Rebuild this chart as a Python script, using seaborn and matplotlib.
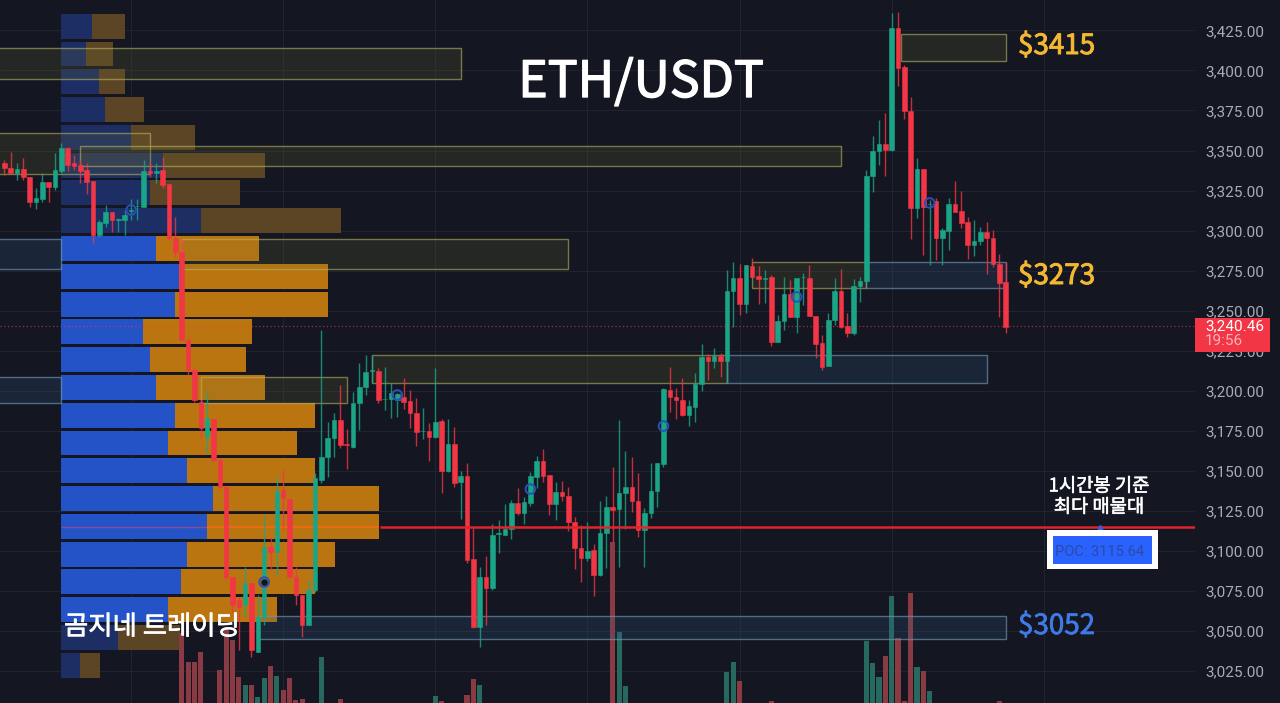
import numpy as np
import pandas as pd
import matplotlib
matplotlib.use("Agg")
import matplotlib.pyplot as plt
import matplotlib.patheffects as pe
from matplotlib.patches import Rectangle
import seaborn as sns

# candles, one hour each
opens = [3342.0, 3339.3, 3335.8, 3338.4, 3333.7, 3317.6, 3319.7, 3330.3, 3327.4, 3337.4,
         3351.8, 3342.0, 3341.0, 3337.8, 3331.0, 3297.2, 3304.9, 3311.4, 3306.6, 3306.6,
         3312.2, 3315.2, 3314.9, 3337.2, 3335.8, 3337.8, 3328.8, 3295.1, 3286.8, 3231.6,
         3212.8, 3193.0, 3170.7, 3182.2, 3156.5, 3139.9, 3083.6, 3069.0, 3065.9, 3079.5,
         3036.8, 3058.6, 3102.4, 3099.3, 3137.8, 3132.2, 3083.6, 3072.2, 3053.4, 3075.3,
         3144.0, 3158.2, 3170.1, 3181.5, 3166.3, 3164.9, 3192.0, 3202.0, 3212.0, 3212.4,
         3194.5, 3194.7, 3194.0, 3196.2, 3193.5, 3185.8, 3174.6, 3174.7, 3171.2, 3181.2,
         3149.7, 3166.6, 3143.0, 3146.6, 3094.5, 3052.4, 3083.3, 3076.4, 3110.2, 3109.7,
         3113.3, 3129.5, 3123.3, 3129.5, 3146.2, 3156.2, 3147.2, 3129.1, 3136.8, 3134.3,
         3117.6, 3101.4, 3095.6, 3100.4, 3084.7, 3110.8, 3127.0, 3125.8, 3135.8, 3139.5,
         3131.2, 3112.8, 3123.3, 3137.4, 3154.1, 3200.4, 3195.8, 3194.1, 3184.7, 3189.9,
         3204.1, 3221.2, 3218.5, 3221.8, 3218.6, 3262.2, 3270.1, 3254.1, 3278.0, 3271.6,
         3269.8, 3271.1, 3230.1, 3243.4, 3260.3, 3246.1, 3270.8, 3270.1, 3246.6, 3229.5,
         3215.5, 3244.1, 3262.2, 3240.5, 3235.7, 3265.3, 3268.4, 3334.0, 3349.9, 3353.8,
         3350.3, 3426.8, 3402.4, 3374.9, 3313.8, 3338.2, 3316.3, 3318.2, 3295.1, 3299.9,
         3316.3, 3312.4, 3305.5, 3290.9, 3293.6, 3298.8, 3295.1, 3279.1, 3267.6]
highs = [3344.1, 3349.3, 3342.0, 3345.1, 3333.7, 3326.4, 3336.1, 3330.3, 3348.6, 3354.5,
         3352.4, 3347.2, 3344.1, 3342.0, 3331.0, 3306.6, 3316.0, 3311.4, 3307.6, 3312.8,
         3319.5, 3319.5, 3344.1, 3342.0, 3342.0, 3346.1, 3328.8, 3308.6, 3294.1, 3233.0,
         3214.9, 3194.0, 3199.3, 3182.2, 3157.6, 3139.9, 3083.6, 3071.1, 3089.9, 3079.5,
         3072.2, 3122.2, 3108.6, 3146.1, 3150.3, 3132.2, 3089.9, 3072.2, 3081.5, 3148.2,
         3237.8, 3180.5, 3185.7, 3203.4, 3175.9, 3199.3, 3217.0, 3222.2, 3222.2, 3213.8,
         3214.9, 3204.5, 3198.2, 3207.6, 3200.4, 3195.1, 3188.9, 3179.5, 3213.9, 3182.2,
         3182.2, 3177.0, 3149.7, 3154.5, 3113.9, 3089.9, 3096.6, 3116.6, 3119.1, 3128.9,
         3131.6, 3138.9, 3133.7, 3149.3, 3159.1, 3163.3, 3147.2, 3143.1, 3143.5, 3139.5,
         3121.2, 3116.0, 3118.0, 3104.1, 3131.2, 3134.1, 3152.4, 3181.6, 3162.4, 3158.7,
         3148.3, 3126.4, 3154.5, 3154.5, 3201.4, 3214.9, 3201.4, 3207.6, 3194.1, 3210.8,
         3228.9, 3222.9, 3226.4, 3223.3, 3275.3, 3280.5, 3278.9, 3278.4, 3282.6, 3277.8,
         3275.3, 3272.2, 3247.2, 3271.1, 3269.1, 3270.1, 3273.2, 3278.4, 3246.6, 3234.7,
         3248.2, 3270.1, 3275.7, 3248.2, 3269.5, 3271.1, 3337.8, 3359.1, 3369.1, 3373.2,
         3435.7, 3436.4, 3403.4, 3383.6, 3345.1, 3338.2, 3319.1, 3320.1, 3301.8, 3320.1,
         3331.1, 3324.7, 3308.6, 3306.6, 3302.4, 3305.5, 3300.3, 3285.3, 3280.5]
lows = [3334.7, 3335.8, 3331.6, 3331.6, 3314.5, 3313.2, 3318.0, 3317.6, 3325.3, 3335.8,
        3337.4, 3337.8, 3329.9, 3322.6, 3292.0, 3295.7, 3302.4, 3299.3, 3299.3, 3297.2,
        3306.6, 3306.6, 3314.5, 3333.7, 3329.5, 3326.8, 3294.1, 3283.6, 3231.6, 3209.7,
        3193.0, 3170.1, 3160.7, 3155.5, 3137.8, 3081.5, 3060.7, 3037.8, 3058.6, 3033.6,
        3036.8, 3053.4, 3087.8, 3084.7, 3112.8, 3083.6, 3065.9, 3046.1, 3053.4, 3074.3,
        3142.0, 3146.1, 3158.6, 3163.8, 3150.7, 3163.8, 3175.3, 3197.2, 3204.5, 3192.0,
        3187.8, 3182.6, 3183.6, 3188.5, 3176.4, 3165.6, 3169.7, 3156.2, 3170.1, 3135.8,
        3149.3, 3139.9, 3119.5, 3092.4, 3051.4, 3039.5, 3053.5, 3075.4, 3098.3, 3109.7,
        3107.2, 3122.2, 3116.4, 3128.1, 3138.9, 3142.6, 3122.2, 3119.1, 3131.2, 3112.4,
        3088.5, 3080.1, 3093.5, 3071.6, 3084.1, 3088.9, 3105.6, 3090.0, 3113.3, 3123.9,
        3108.7, 3089.9, 3120.1, 3127.0, 3152.4, 3186.8, 3182.0, 3184.1, 3178.1, 3180.1,
        3199.9, 3206.6, 3213.9, 3208.3, 3204.5, 3239.9, 3247.2, 3248.2, 3271.2, 3254.1,
        3254.9, 3227.8, 3230.1, 3237.8, 3245.7, 3236.1, 3253.4, 3246.6, 3220.1, 3212.8,
        3215.3, 3240.9, 3238.9, 3233.2, 3234.7, 3255.5, 3268.0, 3324.3, 3340.9, 3334.1,
        3349.9, 3390.3, 3369.5, 3294.5, 3307.6, 3284.7, 3278.4, 3281.6, 3278.4, 3287.8,
        3311.8, 3301.8, 3282.0, 3284.1, 3290.9, 3272.8, 3277.4, 3245.7, 3235.7]
closes = [3338.9, 3335.8, 3338.4, 3333.7, 3318.0, 3320.1, 3330.5, 3327.4, 3337.8, 3351.8,
          3341.0, 3340.5, 3337.2, 3330.5, 3297.2, 3305.5, 3311.8, 3306.6, 3307.2, 3309.7,
          3312.8, 3315.6, 3337.2, 3335.8, 3337.4, 3328.4, 3295.1, 3286.8, 3231.6, 3212.8,
          3194.0, 3176.3, 3182.6, 3156.5, 3139.9, 3083.6, 3065.9, 3064.9, 3079.5, 3037.8,
          3058.6, 3102.4, 3099.3, 3137.2, 3132.6, 3083.6, 3072.2, 3053.4, 3075.3, 3145.1,
          3158.6, 3170.1, 3181.5, 3165.9, 3165.9, 3192.0, 3202.4, 3211.3, 3212.6, 3194.0,
          3195.0, 3198.2, 3198.0, 3193.0, 3185.8, 3173.9, 3175.0, 3171.2, 3180.6, 3149.7,
          3166.6, 3142.0, 3146.6, 3094.1, 3052.0, 3083.3, 3076.8, 3109.7, 3110.8, 3113.5,
          3129.9, 3123.3, 3130.1, 3146.6, 3156.2, 3146.6, 3129.1, 3136.8, 3134.1, 3117.6,
          3101.4, 3095.6, 3100.0, 3084.7, 3110.8, 3127.0, 3125.4, 3135.8, 3139.5, 3131.2,
          3112.8, 3123.7, 3137.4, 3154.5, 3201.0, 3195.8, 3194.1, 3184.7, 3190.4, 3204.1,
          3220.8, 3218.5, 3221.8, 3218.7, 3262.4, 3270.1, 3254.1, 3278.4, 3271.2, 3269.5,
          3270.3, 3230.1, 3243.4, 3260.1, 3245.7, 3270.1, 3271.2, 3246.6, 3229.1, 3214.9,
          3244.1, 3262.2, 3239.5, 3235.7, 3265.5, 3268.6, 3334.0, 3349.7, 3353.8, 3350.3,
          3426.8, 3401.8, 3374.7, 3313.8, 3338.2, 3314.9, 3316.8, 3295.1, 3300.3, 3316.6,
          3311.8, 3304.9, 3290.9, 3293.6, 3298.8, 3295.1, 3278.9, 3267.4, 3239.5]

# volume pane, only the bars that reach into the visible part
vol_bar = [28, 29, 30, 31, 34, 35, 36, 37, 38, 39, 40, 41, 42, 43, 44, 45, 46, 47, 50, 53,
           68, 69, 73, 74, 75, 96, 97, 98, 114, 115, 116, 121,
           136, 137, 138, 139, 140, 141, 142, 143, 144, 145, 146, 157]
vol_val = [70, 41, 41, 51, 33, 75, 63, 26, 18, 18, 6, 25, 37, 27, 13, 25, 3, 4, 46, 4,
           7, 2, 8, 24, 18, 161, 71, 17, 31, 41, 22, 2,
           62, 40, 26, 47, 107, 65, 2, 110, 36, 32, 12, 2]

# volume profile rows, top to bottom
vp_price = [3427.7, 3410.3, 3393.0, 3375.6, 3358.2, 3340.9, 3323.5, 3306.1,
            3288.8, 3271.4, 3254.0, 3236.7, 3219.3, 3201.9, 3184.6, 3167.2,
            3149.8, 3132.5, 3115.1, 3097.7, 3080.4, 3063.0, 3045.6, 3028.3]
vp_buy = [31, 25, 38, 44, 70, 102, 89, 140, 95, 118, 114, 82,
          89, 95, 114, 107, 126, 152, 146, 126, 120, 107, 57, 19]
vp_total = [64, 52, 64, 83, 134, 204, 179, 280, 198, 267, 267, 191,
            185, 204, 254, 236, 254, 318, 318, 274, 254, 216, 119, 39]
vp_value_area = [False] * 8 + [True] * 14 + [False] * 2

# supply / demand zones: first bar, last bar, top, bottom, kind
zone_start = [-1, -1, 12, -1, 28, -1, 31, 58, 114, 118, 136, 141.5, 40]
zone_end = [72, 23, 132, 9, 89, 9, 54, 114, 155, 136, 158, 158, 158]
zone_top = [3414.2, 3361.1, 3352.8, 3294.5, 3294.5, 3208.4, 3208.4, 3222.2, 3222.2, 3280.3, 3280.3, 3422.6, 3059.0]
zone_bottom = [3394.5, 3335.3, 3340.3, 3275.9, 3275.9, 3192.0, 3192.0, 3204.9, 3204.9, 3264.0, 3264.0, 3405.8, 3044.7]
zone_kind = ["y", "y", "y", "b", "y", "b", "y", "y", "b", "y", "b", "y", "b"]

# session markers
dot_bar = [20, 41, 62, 83, 104, 125, 146]
dot_price = [3312.8, 3080.3, 3197.2, 3138.4, 3177.8, 3258.5, 3317.2]

y_ticks = list(range(3025, 3450, 25))
x_grid = [20, 44, 68, 92, 116, 140, 164]
last_price = 3240.46
poc_price = 3115.0

BG = "#141722"
UP = "#1ba587"
DOWN = "#f23645"
WIDTH, HEIGHT = 1280, 703

sns.set_theme(style="dark", rc={"figure.facecolor": BG, "axes.facecolor": BG})
plt.rcParams['font.family'] = ['Noto Sans CJK KR', 'DejaVu Sans']

fig = plt.figure(figsize=(WIDTH / 100, HEIGHT / 100), dpi=100)
pos = [0, 0, 1195 / WIDTH, 1]
xlim = (-0.68, 187.86)
ylim = (3004.7, 3444.06)

# bottom layer: grid and price scale
ax = fig.add_axes(pos, zorder=0)
ax.set_xlim(xlim)
ax.set_ylim(ylim)
ax.set_xticks(x_grid)
ax.set_yticks(y_ticks)
ax.set_yticklabels([f"{v:,.2f}" for v in y_ticks], family="Roboto", fontsize=11, color="#a9acb5")
ax.set_xticklabels([])
ax.yaxis.tick_right()
ax.tick_params(length=0, pad=7.5)
ax.grid(True, color="#21242f", linewidth=0.8)
for s in ax.spines.values():
    s.set_visible(False)

# volume profile
ax_vp = fig.add_axes(pos, zorder=1)
vp = pd.DataFrame({"price": vp_price, "buy": vp_buy, "total": vp_total, "va": vp_value_area})
bar_opts = dict(y="price", orient="y", native_scale=True, width=0.9, saturation=1,
                errorbar=None, linewidth=0, edgecolor="none", ax=ax_vp)
sns.barplot(data=vp[~vp.va], x="total", color="#5b4524", **bar_opts)
sns.barplot(data=vp[~vp.va], x="buy", color="#1c2e63", **bar_opts)
sns.barplot(data=vp[vp.va], x="total", color="#bb7510", **bar_opts)
sns.barplot(data=vp[vp.va], x="buy", color="#2453c8", **bar_opts)
ax_vp.hlines(poc_price, 0, vp["buy"].max() - 6, color="#8a4a9a", linewidth=1)
ax_vp.hlines(poc_price, 146, vp["total"].max(), color="#f26a10", linewidth=1.3)
ax_vp.set_xlim(-61, 1195 - 61)
ax_vp.set_ylim(ylim)
ax_vp.set_axis_off()

# volume pane
ax_vol = fig.add_axes(pos, zorder=2)
up_flag = np.array(closes) >= np.array(opens)
vol = pd.DataFrame({"bar": vol_bar, "vol": vol_val,
                    "side": ["up" if up_flag[b] else "down" for b in vol_bar]})
sns.barplot(data=vol, x="bar", y="vol", hue="side", palette={"up": "#26695f", "down": "#8a3a42"},
            native_scale=True, dodge=False, width=0.8, saturation=1, errorbar=None,
            linewidth=0, edgecolor="none", legend=False, ax=ax_vol)
ax_vol.set_xlim(xlim)
ax_vol.set_ylim(0, HEIGHT)
ax_vol.set_axis_off()

# top layer: zones, candles, levels
ax_top = fig.add_axes(pos, zorder=3)
ax_top.set_xlim(xlim)
ax_top.set_ylim(ylim)
ax_top.set_axis_off()

for start, end, top, bottom, kind in zip(zone_start, zone_end, zone_top, zone_bottom, zone_kind):
    if kind == "y":
        fc, ec = (0.45, 0.44, 0.2, 0.18), (0.72, 0.70, 0.38, 0.6)
    else:
        fc, ec = (0.2, 0.38, 0.55, 0.2), (0.45, 0.58, 0.70, 0.65)
    ax_top.add_patch(Rectangle((start, bottom), end - start, top - bottom, facecolor=fc,
                               edgecolor=ec, linewidth=1))

bars = np.arange(len(opens))
colors = [UP if u else DOWN for u in up_flag]
ax_top.vlines(bars, lows, highs, color=colors, linewidth=1, alpha=0.8)
ax_top.bar(bars, np.array(closes) - np.array(opens), bottom=opens, width=0.72, color=colors,
           edgecolor=colors, linewidth=0.4)

ax_top.scatter(dot_bar, dot_price, s=48, facecolors="none", edgecolors="#2a4fb8", linewidths=1.4, zorder=5)
ax_top.scatter(dot_bar[1], dot_price[1], s=14, color="#10141f", zorder=6)

ax_top.hlines(last_price, xlim[0], xlim[1], color=DOWN, linewidth=0.9, linestyles=(0, (1, 2)), alpha=0.65)
ax_top.hlines(poc_price, 59.2, xlim[1], color="#e0242a", linewidth=1.8)
ax_top.plot([172.9], [poc_price - 0.7], marker="^", markersize=5, color="#2962ff")

# price tag on the scale, has to cover the tick labels
tag = ax_top.get_yaxis_transform()
ax_top.add_patch(Rectangle((1.0, 3224.0), 75 / 1195, 21.3, transform=tag, facecolor=DOWN,
                           edgecolor="none", clip_on=False, zorder=8))


def put_text(x, y, s, weight=0.0, **kw):
    t = fig.text(x / WIDTH, 1 - y / HEIGHT, s, zorder=12, va="center", **kw)
    if weight:
        # the screenshot font is a bit heavier than the regular cut
        t.set_path_effects([pe.withStroke(linewidth=weight, foreground=kw["color"])])
    return t


put_text(641, 83, "ETH/USDT", weight=1.0, color="white", fontsize=36, ha="center")
put_text(1018, 46, "$3415", weight=0.7, color="#f4b731", fontsize=20, ha="left")
put_text(1018, 276, "$3273", weight=0.7, color="#f4b731", fontsize=20, ha="left")
put_text(1018, 626, "$3052", weight=0.5, color="#3f7ae6", fontsize=20, ha="left")
put_text(64, 627, "곰지네 트레이딩", weight=0.5, color="white", fontsize=19, ha="left")
put_text(1099, 486, "1시간봉 기준", weight=0.4, color="white", fontsize=13.5, ha="center")
put_text(1099, 507, "최다 매물대", weight=0.4, color="white", fontsize=13.5, ha="center")

put_text(1205, 326, f"{last_price:,.2f}", color="white", fontsize=11, ha="left", family="Roboto")
put_text(1205, 341, "19:56", color="#f7b5ba", fontsize=11, ha="left", family="Roboto")

fig.add_artist(Rectangle((1047 / WIDTH, 1 - 569 / HEIGHT), 111 / WIDTH, 39 / HEIGHT,
                         transform=fig.transFigure, facecolor="white", edgecolor="none", zorder=10))
fig.add_artist(Rectangle((1053 / WIDTH, 1 - 564 / HEIGHT), 99 / WIDTH, 28 / HEIGHT,
                         transform=fig.transFigure, facecolor="#2962ff", edgecolor="none", zorder=11))
put_text(1100, 552, "POC: 3115.64", color="#2c4aa0", fontsize=10.5, ha="center", family="Roboto")

fig.savefig("out.png", dpi=100, facecolor=BG)
